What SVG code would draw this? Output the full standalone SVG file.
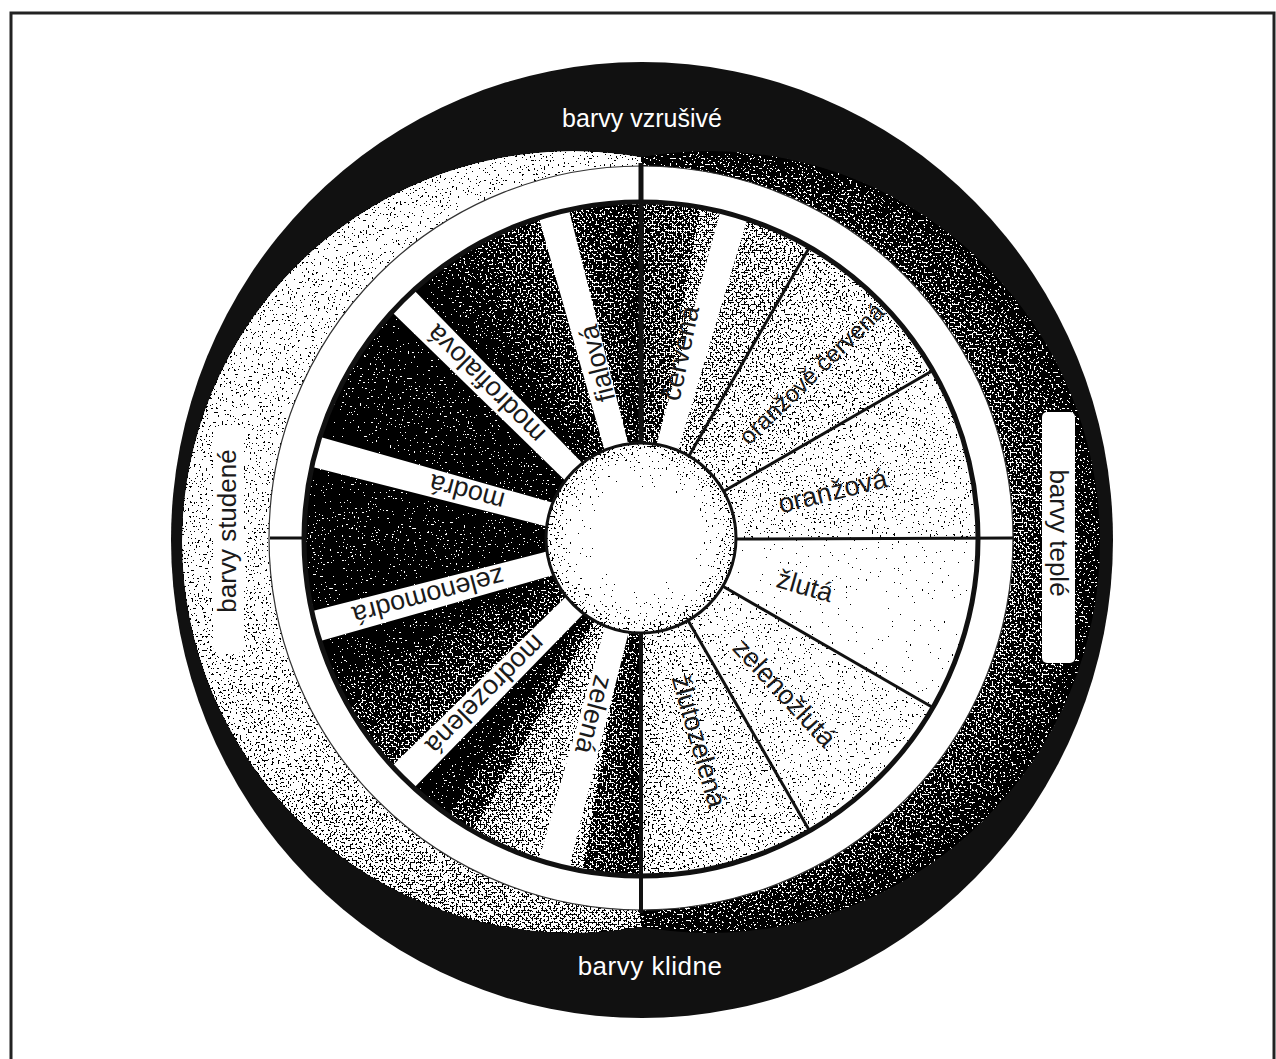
<svg xmlns="http://www.w3.org/2000/svg" xmlns:xlink="http://www.w3.org/1999/xlink" width="1276" height="1059" viewBox="0 0 1276 1059">
<style>
.lbl{font-family:"Liberation Sans",Arial,sans-serif;font-size:27px;fill:#1a1a1a}
.out{font-family:"Liberation Sans",Arial,sans-serif;font-size:25px;fill:#ffffff}
.side{font-family:"Liberation Sans",Arial,sans-serif;font-size:26px;fill:#1a1a1a}
.ln{stroke:#111;stroke-width:3;fill:none}
.strip{fill:#ffffff}
</style>
<defs>
<filter id="stip" filterUnits="userSpaceOnUse" x="0" y="0" width="1276" height="1059" color-interpolation-filters="sRGB">
<feTurbulence type="fractalNoise" baseFrequency="0.5" numOctaves="2" seed="7" result="t"/>
<feColorMatrix in="t" type="matrix" values="-2 0 0 0 1.5  -2 0 0 0 1.5  -2 0 0 0 1.5  0 0 0 0 1" result="inv"/>
<feComposite in="SourceGraphic" in2="inv" operator="arithmetic" k1="0" k2="1" k3="1" k4="-0.5" result="d"/>
<feComponentTransfer in="d" result="b">
<feFuncR type="discrete" tableValues="0 1"/>
<feFuncG type="discrete" tableValues="0 1"/>
<feFuncB type="discrete" tableValues="0 1"/>
</feComponentTransfer>
<feComposite in="b" in2="SourceGraphic" operator="in"/>
</filter>
<linearGradient id="gl" gradientUnits="userSpaceOnUse" x1="0" y1="150" x2="0" y2="935">
<stop offset="0" stop-color="#e0e0e0"/>
<stop offset="0.55" stop-color="#d4d4d4"/>
<stop offset="0.8" stop-color="#bdbdbd"/>
<stop offset="1" stop-color="#808080"/>
</linearGradient>
<radialGradient id="gd" gradientUnits="userSpaceOnUse" cx="709" cy="542" r="391">
<stop offset="0.78" stop-color="#737373"/>
<stop offset="0.9" stop-color="#555555"/>
<stop offset="0.97" stop-color="#383838"/>
<stop offset="1" stop-color="#262626"/>
</radialGradient>
<radialGradient id="gh" gradientUnits="userSpaceOnUse" cx="641" cy="538" r="95">
<stop offset="0" stop-color="#ffffff"/>
<stop offset="0.5" stop-color="#ffffff"/>
<stop offset="0.78" stop-color="#ebebeb"/>
<stop offset="0.93" stop-color="#c8c8c8"/>
<stop offset="1" stop-color="#9a9a9a"/>
</radialGradient>
<clipPath id="cl"><rect x="0" y="0" width="641" height="1059"/></clipPath>
<clipPath id="cr"><rect x="641" y="0" width="635" height="1059"/></clipPath>
<path id="w" d="M641,539 L641,202 A337,337 0 0,1 673.3,203.55 Z"/>
</defs>

<path d="M11,1059 V13 H1274 V1059" fill="none" stroke="#222" stroke-width="3"/>

<g id="outer-ring">
<ellipse cx="642" cy="540" rx="471" ry="478" fill="#111111"/>
<g filter="url(#stip)">
<circle cx="573" cy="542" r="391" fill="url(#gl)" clip-path="url(#cl)"/>
<circle cx="709" cy="542" r="391" fill="url(#gd)" clip-path="url(#cr)"/>
</g>
</g>

<g id="white-ring">
<circle cx="641" cy="538" r="372" fill="#ffffff" stroke="#333" stroke-width="1.2"/>
</g>

<g id="shading" filter="url(#stip)">
<use href="#w" transform="rotate(0 641 539)" fill="#737373"/>
<use href="#w" transform="rotate(5 641 539)" fill="#787878"/>
<use href="#w" transform="rotate(10 641 539)" fill="#808080"/>
<use href="#w" transform="rotate(15 641 539)" fill="#858585"/>
<use href="#w" transform="rotate(20 641 539)" fill="#8f8f8f"/>
<use href="#w" transform="rotate(25 641 539)" fill="#999999"/>
<use href="#w" transform="rotate(30 641 539)" fill="#b3b3b3"/>
<use href="#w" transform="rotate(35 641 539)" fill="#b8b8b8"/>
<use href="#w" transform="rotate(40 641 539)" fill="#bdbdbd"/>
<use href="#w" transform="rotate(45 641 539)" fill="#bfbfbf"/>
<use href="#w" transform="rotate(50 641 539)" fill="#c2c2c2"/>
<use href="#w" transform="rotate(55 641 539)" fill="#c4c4c4"/>
<use href="#w" transform="rotate(60 641 539)" fill="#d4d4d4"/>
<use href="#w" transform="rotate(65 641 539)" fill="#d6d6d6"/>
<use href="#w" transform="rotate(70 641 539)" fill="#d9d9d9"/>
<use href="#w" transform="rotate(75 641 539)" fill="#dbdbdb"/>
<use href="#w" transform="rotate(80 641 539)" fill="#dedede"/>
<use href="#w" transform="rotate(85 641 539)" fill="#e0e0e0"/>
<use href="#w" transform="rotate(90 641 539)" fill="#f5f5f5"/>
<use href="#w" transform="rotate(95 641 539)" fill="#fafafa"/>
<use href="#w" transform="rotate(100 641 539)" fill="#fafafa"/>
<use href="#w" transform="rotate(105 641 539)" fill="#fafafa"/>
<use href="#w" transform="rotate(110 641 539)" fill="#f7f7f7"/>
<use href="#w" transform="rotate(115 641 539)" fill="#f5f5f5"/>
<use href="#w" transform="rotate(120 641 539)" fill="#e3e3e3"/>
<use href="#w" transform="rotate(125 641 539)" fill="#e3e3e3"/>
<use href="#w" transform="rotate(130 641 539)" fill="#e3e3e3"/>
<use href="#w" transform="rotate(135 641 539)" fill="#e0e0e0"/>
<use href="#w" transform="rotate(140 641 539)" fill="#dedede"/>
<use href="#w" transform="rotate(145 641 539)" fill="#dbdbdb"/>
<use href="#w" transform="rotate(150 641 539)" fill="#cfcfcf"/>
<use href="#w" transform="rotate(155 641 539)" fill="#cfcfcf"/>
<use href="#w" transform="rotate(160 641 539)" fill="#cccccc"/>
<use href="#w" transform="rotate(165 641 539)" fill="#c9c9c9"/>
<use href="#w" transform="rotate(170 641 539)" fill="#c2c2c2"/>
<use href="#w" transform="rotate(175 641 539)" fill="#b0b0b0"/>
<use href="#w" transform="rotate(180 641 539)" fill="#525252"/>
<use href="#w" transform="rotate(185 641 539)" fill="#6b6b6b"/>
<use href="#w" transform="rotate(190 641 539)" fill="#8c8c8c"/>
<use href="#w" transform="rotate(195 641 539)" fill="#999999"/>
<use href="#w" transform="rotate(200 641 539)" fill="#999999"/>
<use href="#w" transform="rotate(205 641 539)" fill="#808080"/>
<use href="#w" transform="rotate(210 641 539)" fill="#595959"/>
<use href="#w" transform="rotate(215 641 539)" fill="#1a1a1a"/>
<use href="#w" transform="rotate(220 641 539)" fill="#0f0f0f"/>
<use href="#w" transform="rotate(225 641 539)" fill="#666666"/>
<use href="#w" transform="rotate(230 641 539)" fill="#616161"/>
<use href="#w" transform="rotate(235 641 539)" fill="#4d4d4d"/>
<use href="#w" transform="rotate(240 641 539)" fill="#333333"/>
<use href="#w" transform="rotate(245 641 539)" fill="#1a1a1a"/>
<use href="#w" transform="rotate(250 641 539)" fill="#0f0f0f"/>
<use href="#w" transform="rotate(255 641 539)" fill="#0f0f0f"/>
<use href="#w" transform="rotate(260 641 539)" fill="#141414"/>
<use href="#w" transform="rotate(265 641 539)" fill="#1a1a1a"/>
<use href="#w" transform="rotate(270 641 539)" fill="#1a1a1a"/>
<use href="#w" transform="rotate(275 641 539)" fill="#141414"/>
<use href="#w" transform="rotate(280 641 539)" fill="#0f0f0f"/>
<use href="#w" transform="rotate(285 641 539)" fill="#0f0f0f"/>
<use href="#w" transform="rotate(290 641 539)" fill="#141414"/>
<use href="#w" transform="rotate(295 641 539)" fill="#1a1a1a"/>
<use href="#w" transform="rotate(300 641 539)" fill="#1a1a1a"/>
<use href="#w" transform="rotate(305 641 539)" fill="#141414"/>
<use href="#w" transform="rotate(310 641 539)" fill="#0f0f0f"/>
<use href="#w" transform="rotate(315 641 539)" fill="#0f0f0f"/>
<use href="#w" transform="rotate(320 641 539)" fill="#1f1f1f"/>
<use href="#w" transform="rotate(325 641 539)" fill="#333333"/>
<use href="#w" transform="rotate(330 641 539)" fill="#4d4d4d"/>
<use href="#w" transform="rotate(335 641 539)" fill="#616161"/>
<use href="#w" transform="rotate(340 641 539)" fill="#6b6b6b"/>
<use href="#w" transform="rotate(345 641 539)" fill="#6b6b6b"/>
<use href="#w" transform="rotate(350 641 539)" fill="#595959"/>
<use href="#w" transform="rotate(355 641 539)" fill="#474747"/>
</g>

<g id="strips">
<polygon class="strip" points="538.8,217.5 568.8,209.5 631.9,458.6 608.7,464.8"/>
<polygon class="strip" points="391.7,311.7 413.6,289.7 592.9,473.9 575.9,490.9"/>
<polygon class="strip" points="311.5,466.8 319.5,436.8 566.8,506.7 560.6,529.9"/>
<polygon class="strip" points="311.5,611.2 319.5,641.2 566.8,571.3 560.6,548.1"/>
<polygon class="strip" points="391.7,766.3 413.6,788.3 592.9,604.1 575.9,587.1"/>
<polygon class="strip" points="538.8,860.5 568.8,868.5 631.9,619.4 608.7,613.2"/>
<polygon class="strip" points="720.4,211.1 747.4,218.9 673.6,465.1 652.5,459.1"/>
</g>

<g id="connectors">
<line x1="641" y1="163" x2="641" y2="446" stroke="#111" stroke-width="5"/>
<line x1="641" y1="630" x2="641" y2="913" stroke="#111" stroke-width="4"/>
<line x1="735" y1="539" x2="1013" y2="538" class="ln"/>
<line x1="270" y1="538" x2="304" y2="538" class="ln"/>
<line x1="688.5" y1="456.7" x2="809.5" y2="247.2" class="ln"/>
<line x1="723.3" y1="491.5" x2="932.8" y2="370.5" class="ln"/>
<line x1="723.3" y1="586.5" x2="932.8" y2="707.5" class="ln"/>
<line x1="688.5" y1="621.3" x2="809.5" y2="830.8" class="ln"/>
</g>

<g id="hub">
<circle cx="641" cy="538" r="95" fill="url(#gh)" filter="url(#stip)"/>
<circle cx="641" cy="538" r="95" fill="none" stroke="#111" stroke-width="3"/>
</g>
<circle cx="641" cy="539" r="337" fill="none" stroke="#111" stroke-width="5"/>

<g id="sector-cervena"><text class="lbl" transform="rotate(-78 641 539)" x="783" y="548">červená</text></g>
<g id="sector-oranzove-cervena"><text class="lbl" style="font-size:24px" transform="rotate(-44 641 539)" x="783" y="547">oranžově červená</text></g>
<g id="sector-oranzova"><text class="lbl" transform="rotate(-14 641 539)" x="783" y="548">oranžová</text></g>
<g id="sector-zluta"><text class="lbl" transform="rotate(16 641 539)" x="783" y="548">žlutá</text></g>
<g id="sector-zelenozluta"><text class="lbl" transform="rotate(47 641 539)" x="783" y="548">zelenožlutá</text></g>
<g id="sector-zlutozelena"><text class="lbl" transform="rotate(74 641 539)" x="783" y="548">žlutozelená</text></g>
<g id="sector-zelena"><text class="lbl" transform="rotate(105 641 539)" x="783" y="548">zelená</text></g>
<g id="sector-modrozelena"><text class="lbl" transform="rotate(135 641 539)" x="783" y="548">modrozelená</text></g>
<g id="sector-zelenomodra"><text class="lbl" transform="rotate(165 641 539)" x="783" y="548">zelenomodrá</text></g>
<g id="sector-modra"><text class="lbl" transform="rotate(195 641 539)" x="783" y="548">modrá</text></g>
<g id="sector-modrofialova"><text class="lbl" transform="rotate(225 641 539)" x="783" y="548">modrofialová</text></g>
<g id="sector-fialova"><text class="lbl" transform="rotate(256 641 539)" x="783" y="548">fialová</text></g>

<g id="label-vzrusive"><text class="out" x="642" y="127" text-anchor="middle">barvy vzrušivé</text></g>
<g id="label-klidne"><text class="out" style="font-size:26px;letter-spacing:0.5px" x="650" y="975" text-anchor="middle">barvy klidne</text></g>
<g id="label-studene">
<rect x="213" y="427" width="31" height="226" rx="5" fill="#ffffff"/>
<text class="side" transform="translate(236,531) rotate(-90)" text-anchor="middle">barvy studené</text>
</g>
<g id="label-teple">
<rect x="1042" y="412" width="33" height="251" rx="5" fill="#ffffff"/>
<text class="side" transform="translate(1050,533) rotate(90)" text-anchor="middle">barvy teplé</text>
</g>
</svg>
